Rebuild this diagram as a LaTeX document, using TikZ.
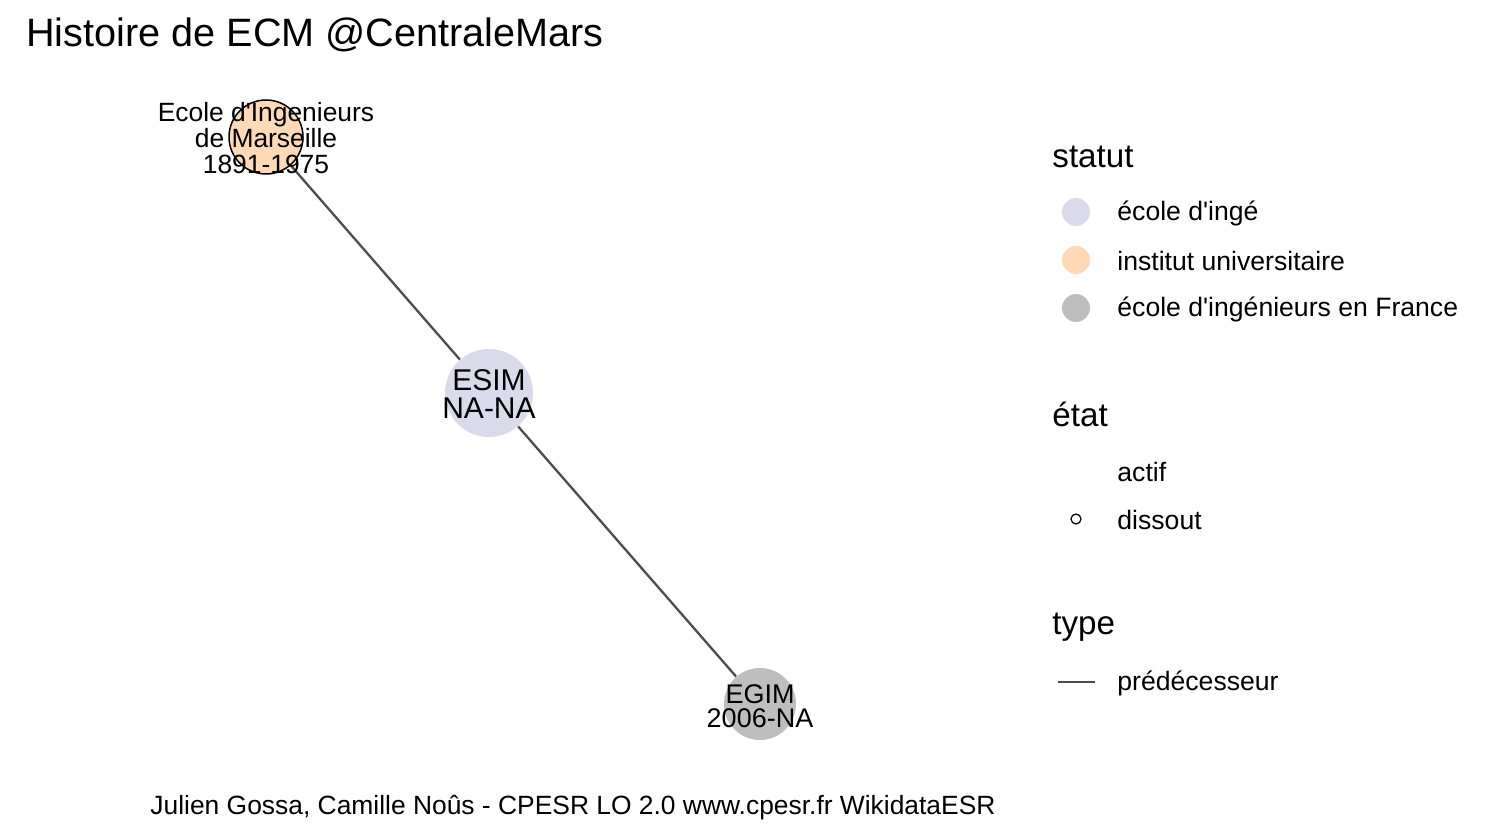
\documentclass[tikz,border=0pt]{standalone}
\usepackage{fontspec}
\setmainfont{Liberation Sans}
\usepackage{tikz}
\usetikzlibrary{calc}
\definecolor{ecole}{HTML}{DADAEB}
\definecolor{institut}{HTML}{FDD9B5}
\definecolor{ingfr}{HTML}{BEBEBE}
\definecolor{lien}{HTML}{4D4D4D}
\newcommand{\apo}{\textquotesingle}
\tikzset{
  etab/.style={circle,inner sep=0pt,draw=none},
  lbl/.style={align=center,inner sep=0pt,font=\fontsize{13.2}{12.8}\selectfont},
  leg/.style={anchor=west,inner sep=0pt,font=\fontsize{13.3}{15}\selectfont},
  legtitle/.style={anchor=west,inner sep=0pt,font=\fontsize{16.6}{18}\selectfont}
}
\begin{document}
\begin{tikzpicture}[x=0.5pt,y=-0.5pt]
\useasboundingbox (0,0) rectangle (1492,839);

  \node (EIM) at (266,137) [etab,fill=institut,draw=black,line width=0.75pt,minimum size=37pt] {};
  \node (ESIM) at (489,393) [etab,fill=ecole,minimum size=44pt] {};
  \node (EGIM) at (760,704) [etab,fill=ingfr,minimum size=36pt] {};

\draw [lien,line width=1.15pt]
   (EIM) -- (ESIM)
   (ESIM) -- (EGIM);

\draw (266,138) node [lbl] {Ecole d\apo Ingenieurs\\de Marseille\\1891-1975}
    (489,394) node [lbl,font=\fontsize{15}{13.6}\selectfont] {ESIM\\NA-NA}
    (760,706) node [lbl,font=\fontsize{13.5}{12}\selectfont] {EGIM\\2006-NA};

\node (titre) at (26,35) [anchor=west,inner sep=0pt,font=\fontsize{19.8}{22}\selectfont] {Histoire de ECM @CentraleMars};
\node (source) at (573,808) [inner sep=0pt,font=\fontsize{13.2}{15}\selectfont] {Julien Gossa, Camille Noûs - CPESR LO 2.0 www.cpesr.fr WikidataESR};

%%% legende %%%

\node (statut) at (1052,157) [legtitle] {statut};
\node (s1) at (1076,212) [etab,fill=ecole,minimum size=14pt] {};
\node (s2) at (1076,260) [etab,fill=institut,minimum size=14pt] {};
\node (s3) at (1076,308) [etab,fill=ingfr,minimum size=14pt] {};
\node at (1117,213) [leg] {école d\apo ingé};
\node at (1117,261) [leg] {institut universitaire};
\node at (1117,309) [leg] {école d\apo ingénieurs en France};

\node (etat) at (1052,414) [legtitle] {état};
\node (d1) at (1076,519) [etab,draw=black,line width=0.6pt,minimum size=5pt] {};
\node at (1117,472) [leg] {actif};
\node at (1117,520) [leg] {dissout};

\node (type) at (1052,627) [legtitle] {type};
\coordinate (t1) at (1058,682);
\coordinate (t2) at (1095,682);
\draw [lien,line width=1.3pt] (t1) -- (t2);
\node at (1117,683) [leg] {prédécesseur};
\end{tikzpicture}
\end{document}
